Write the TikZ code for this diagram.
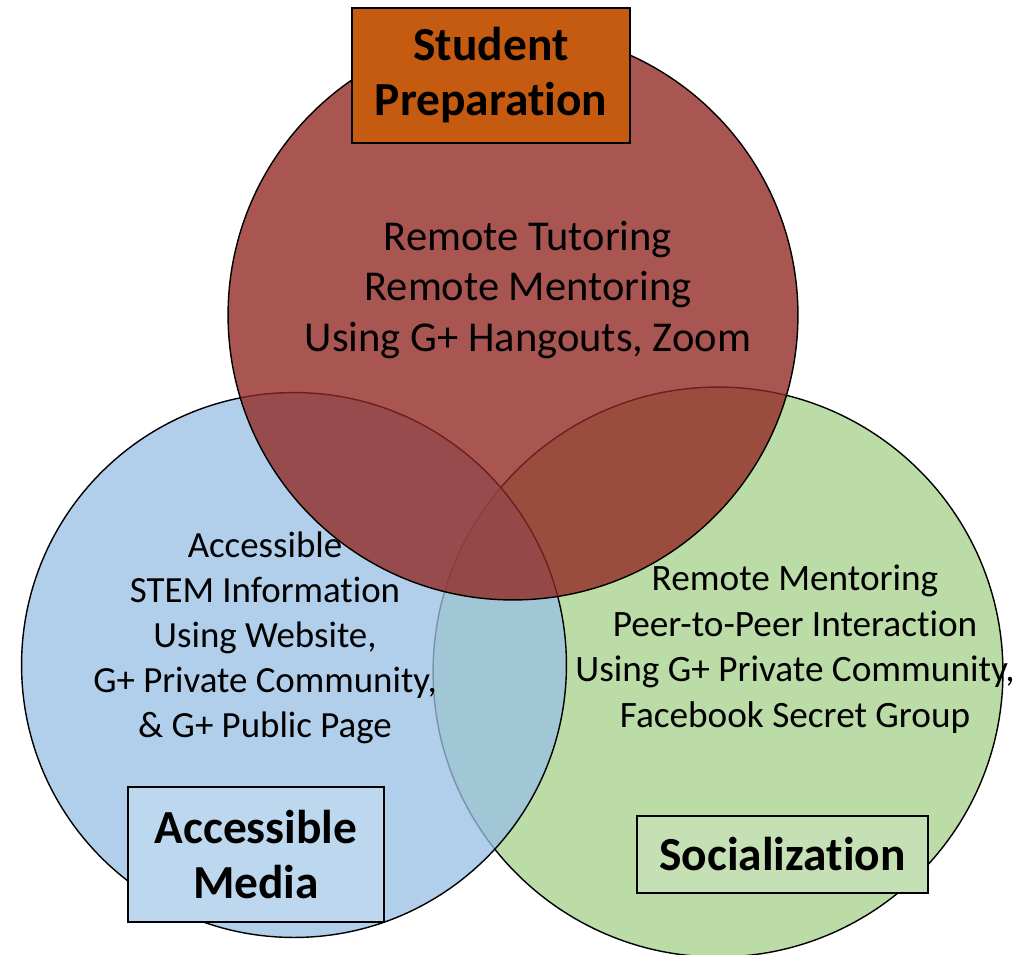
\documentclass[tikz,border=0pt]{standalone}
\usepackage{fontspec}
\setmainfont{Carlito}[Ligatures=NoCommon]
\usepackage{xcolor}

\definecolor{prepred}{RGB}{145,38,33}
\definecolor{mediablue}{RGB}{154,192,228}
\definecolor{socialgreen}{RGB}{187,219,167}
\definecolor{prepbox}{RGB}{197,90,17}
\definecolor{mediabox}{RGB}{189,215,238}
\definecolor{socialbox}{RGB}{197,224,180}

\begin{document}
\begin{tikzpicture}[x=0.02cm, y=-0.02cm,
    set/.style={draw, circle, line width=0.8pt, inner sep=0pt},
    tag/.style={draw, line width=0.8pt, font=\fontsize{27}{31.3}\selectfont\bfseries, align=center, inner sep=0pt},
    info/.style={align=center, inner sep=0pt}]
            \useasboundingbox (0,0) rectangle (1024,954);

            %the three sets, green first so blue and red lie over it
            \node[set, fill=socialgreen, minimum size=11.4cm] (social) at (718,672) {};
            \node[set, fill=mediablue, fill opacity=0.77, minimum size=10.9cm] (media) at (294,665) {};
            \node[set, fill=prepred, fill opacity=0.78, minimum size=11.4cm] (prep) at (513,315) {};

            %text inside each set
            \node[info, font=\fontsize{24.2}{28.5}\selectfont] (preptext) at (528,290)
                {Remote Tutoring\\Remote Mentoring\\Using G+ Hangouts, Zoom};
            \node[info, font=\fontsize{21}{25.7}\selectfont] (mediatext) at (265,638)
                {Accessible\\STEM Information\\Using Website,\\G+ Private Community,\\\& G+ Public Page};
            \node[info, font=\fontsize{21.2}{25.9}\selectfont] (socialtext) at (795,649)
                {Remote Mentoring\\Peer-to-Peer Interaction\\Using G+ Private Community,\\Facebook Secret Group};

            %titles of the sets
            \node[tag, fill=prepbox, minimum width=5.56cm, minimum height=2.7cm] (preptag) at (491,75.5)
                {Student\\Preparation};
            \node[tag, fill=mediabox, minimum width=5.12cm, minimum height=2.7cm] (mediatag) at (256,854.5)
                {Accessible\\Media};
            \node[tag, fill=socialbox, minimum width=5.82cm, minimum height=1.54cm] (socialtag) at (782.5,854.5)
                {Socialization};

        \end{tikzpicture}
\end{document}
